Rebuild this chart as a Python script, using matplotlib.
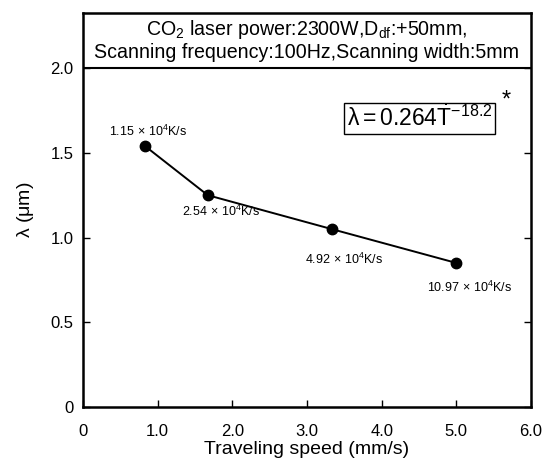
import matplotlib
matplotlib.use("Agg")
import matplotlib.pyplot as plt

plt.rcParams['font.family'] = ['Liberation Sans', 'DejaVu Sans']
plt.rcParams['mathtext.fontset'] = 'custom'
plt.rcParams['mathtext.rm'] = 'Liberation Sans'
plt.rcParams['mathtext.it'] = 'Liberation Sans'
plt.rcParams['mathtext.bf'] = 'Liberation Sans:bold'

speed = [0.83, 1.67, 3.33, 5.0]
wavelength = [1.54, 1.25, 1.05, 0.85]
cooling_labels = [r"1.15$\,\times\,$10$^4$K/s", r"2.54$\,\times\,$10$^4$K/s",
                  r"4.92$\,\times\,$10$^4$K/s", r"10.97$\,\times\,$10$^4$K/s"]
label_offsets = [(0.04, 0.085), (0.18, -0.094), (0.17, -0.177), (0.18, -0.142)]
xticks = [0, 1, 2, 3, 4, 5, 6]
xticklabels = ["0", "1.0", "2.0", "3.0", "4.0", "5.0", "6.0"]
yticks = [0, 0.5, 1.0, 1.5, 2.0]
yticklabels = ["0", "0.5", "1.0", "1.5", "2.0"]

fig = plt.figure(figsize=(5.46, 4.66), dpi=100)
ax = fig.add_axes([83/546, 1-407/466, (531-83)/546, (407-13)/466])

ax.plot(speed, wavelength, color='black', lw=1.4, marker='o', ms=7.5, zorder=3)
for x, y, lab, (dx, dy) in zip(speed, wavelength, cooling_labels, label_offsets):
    ax.text(x + dx, y + dy, lab, ha='center', va='center', fontsize=9)

ax.set_xlim(0, 6)
ax.set_ylim(0, 2.325)
ax.axhline(2.0, color='black', lw=1.5)

ax.set_xticks(xticks)
ax.set_xticklabels(xticklabels, fontsize=12)
ax.set_yticks(yticks)
ax.set_yticklabels(yticklabels, fontsize=12)
ax.tick_params(direction='in', length=5, width=1, right=True, top=False)
ax.tick_params(axis='x', pad=12)
ax.tick_params(axis='y', pad=7)
for s in ax.spines.values():
    s.set_linewidth(1.8)

ax.set_xlabel("Traveling speed (mm/s)", fontsize=14, labelpad=2)
ax.set_ylabel(r"$\lambda$ (μm)", fontsize=14, labelpad=10)

ax.text(3.0, 2.165, "CO$_2$ laser power:2300W,D$_{df}$:+50mm,\nScanning frequency:100Hz,Scanning width:5mm",
        ha='center', va='center', fontsize=14.1, linespacing=1.15)

ax.text(4.51, 1.705, r"$\lambda = 0.264\dot{\mathrm{T}}^{-18.2}$", ha='center', va='center', fontsize=16.5,
        bbox=dict(boxstyle='square,pad=0.12', fc='white', ec='black', lw=1.0))
ax.text(5.67, 1.81, "*", ha='center', va='center', fontsize=17)

fig.savefig("out.png", dpi=100)
